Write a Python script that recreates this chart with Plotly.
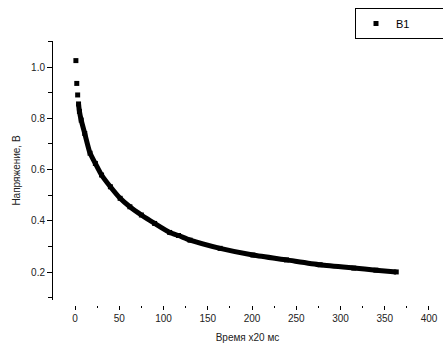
import plotly.graph_objects as go

# Data (time x20 ms, voltage V)
time_x20ms = [1, 2, 3, 4, 5, 7, 11, 17, 23, 30, 40, 51, 62, 75, 90, 107, 117,
              130, 164, 201, 239, 277, 315, 340, 363]
voltage_v = [1.025, 0.936, 0.891, 0.856, 0.827, 0.793, 0.741, 0.664, 0.624, 0.579,
             0.533, 0.488, 0.455, 0.423, 0.390, 0.355, 0.343, 0.325, 0.293, 0.267,
             0.248, 0.229, 0.216, 0.208, 0.201]
series_name = "B1"
x_title = "Время x20 мс"
y_title = "Напряжение, В"

W, H = 443, 357
FONT = "Liberation Sans, Arial, sans-serif"
TXT = "#222"

fig = go.Figure()
# dense part of the series drawn as a thick band (the first few points stay separate squares)
fig.add_trace(go.Scatter(
    x=time_x20ms[3:], y=voltage_v[3:], name=series_name,
    mode="lines", showlegend=False, hoverinfo="skip",
    line=dict(color="black", width=5, shape="spline", smoothing=0.6),
))
fig.add_trace(go.Scatter(
    x=time_x20ms, y=voltage_v, name=series_name,
    mode="markers",
    marker=dict(symbol="square", size=5, color="black", line=dict(width=0)),
))

fig.update_layout(
    width=W, height=H,
    margin=dict(l=53, r=1, t=41, b=52, autoexpand=False),
    paper_bgcolor="white", plot_bgcolor="white",
    font=dict(family=FONT, size=10, color=TXT),
    showlegend=True,
    legend=dict(
        orientation="h",
        x=(355 - 53) / 389, xanchor="left",
        y=(305 - 8) / 264, yanchor="top",
        bordercolor="black", borderwidth=1, bgcolor="white",
        font=dict(family=FONT, size=11, color="black"),
        entrywidth=90, entrywidthmode="pixels",
    ),
    xaxis=dict(
        range=[-24.86, 414.7],
        anchor="free", position=0,
        showline=False, showgrid=False, zeroline=False,
        ticks="outside", ticklen=4, tickwidth=1, tickcolor="black",
        tick0=0, dtick=50,
        minor=dict(ticks="outside", ticklen=2, tickwidth=1, tickcolor="black",
                   dtick=25, tick0=0, showgrid=False),
        tickfont=dict(family=FONT, size=10, color=TXT),
        title=dict(text=x_title, font=dict(family=FONT, size=10, color=TXT), standoff=10),
    ),
    yaxis=dict(
        domain=[5 / 264, 1],
        range=[0.0916, 1.1014],
        showline=True, linecolor="black", linewidth=1,
        showgrid=False, zeroline=False,
        ticks="outside", ticklen=5, tickwidth=1, tickcolor="black",
        tick0=0.2, dtick=0.2, tickformat=".1f",
        minor=dict(ticks="outside", ticklen=4, tickwidth=1, tickcolor="black",
                   dtick=0.1, tick0=0.1, showgrid=False),
        tickfont=dict(family=FONT, size=10, color=TXT),
        title=dict(text=y_title, font=dict(family=FONT, size=10, color=TXT), standoff=8),
    ),
)

fig.write_html(
    "out.html",
    config={"displayModeBar": False},
    post_script="document.body.style.margin='0';document.body.style.overflow='hidden';",
)
